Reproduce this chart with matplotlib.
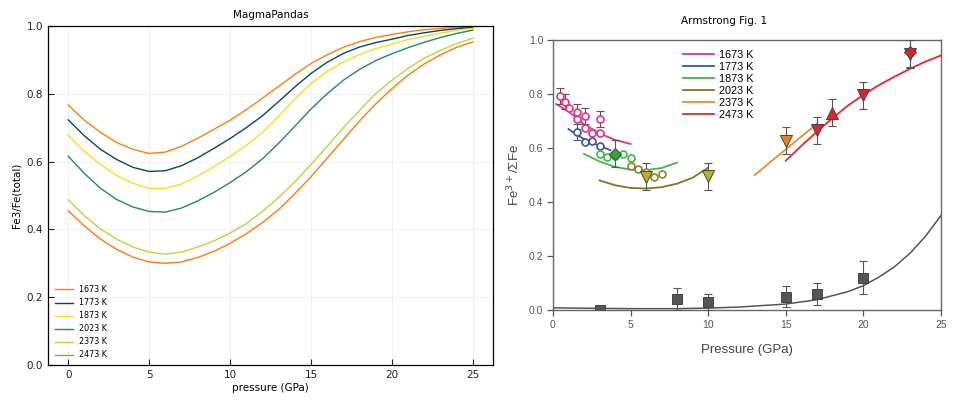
import matplotlib
matplotlib.use("Agg")
import matplotlib.pyplot as plt
import numpy as np

# ---------------- Left panel data (MagmaPandas model curves) ----------------
pressure = list(range(0, 26))
temps_left = ["1673 K", "1773 K", "1873 K", "2023 K", "2373 K", "2473 K"]
colors_left = ["#ff7f0e", "#0b4566", "#ffdc1e", "#1f8a6c", "#bcd63c", "#ff7a10"]

fe3_1673 = [0.767, 0.722, 0.686, 0.656, 0.636, 0.624, 0.628, 0.645, 0.669, 0.695,
            0.722, 0.753, 0.787, 0.822, 0.857, 0.889, 0.915, 0.937, 0.954, 0.966,
            0.975, 0.983, 0.989, 0.993, 0.996, 0.998]
fe3_1773 = [0.723, 0.676, 0.636, 0.606, 0.583, 0.571, 0.573, 0.588, 0.611, 0.639,
            0.668, 0.700, 0.735, 0.777, 0.820, 0.860, 0.893, 0.919, 0.938, 0.951,
            0.961, 0.972, 0.980, 0.987, 0.992, 0.996]
fe3_1873 = [0.678, 0.630, 0.591, 0.559, 0.536, 0.521, 0.521, 0.534, 0.557, 0.585,
            0.615, 0.648, 0.686, 0.734, 0.784, 0.830, 0.866, 0.894, 0.916, 0.933,
            0.947, 0.960, 0.970, 0.979, 0.987, 0.993]
fe3_2023 = [0.616, 0.565, 0.521, 0.488, 0.466, 0.453, 0.451, 0.463, 0.484, 0.509,
            0.538, 0.570, 0.608, 0.654, 0.704, 0.755, 0.800, 0.840, 0.872, 0.898,
            0.918, 0.936, 0.952, 0.966, 0.978, 0.988]
fe3_2373 = [0.487, 0.440, 0.401, 0.371, 0.348, 0.333, 0.327, 0.333, 0.348, 0.366,
            0.389, 0.417, 0.453, 0.494, 0.540, 0.591, 0.645, 0.700, 0.751, 0.800,
            0.840, 0.875, 0.905, 0.928, 0.948, 0.964]
fe3_2473 = [0.455, 0.410, 0.371, 0.341, 0.318, 0.304, 0.300, 0.304, 0.317, 0.335,
            0.359, 0.387, 0.420, 0.458, 0.505, 0.555, 0.610, 0.665, 0.720, 0.770,
            0.815, 0.855, 0.888, 0.915, 0.937, 0.953]
series_left = [fe3_1673, fe3_1773, fe3_1873, fe3_2023, fe3_2373, fe3_2473]

# ---------------- Right panel data (Armstrong et al. Fig. 1) ----------------
temps_right = ["1673 K", "1773 K", "1873 K", "2023 K", "2373 K", "2473 K"]
colors_right = ["#e8308c", "#3a55aa", "#3dba48", "#7c7a22", "#f28a26", "#e8262c"]

fit_1673_p = [0.2, 1.0, 2.0, 3.0, 4.0, 5.0]
fit_1673_v = [0.763, 0.735, 0.688, 0.654, 0.630, 0.615]
fit_1773_p = [1.0, 1.5, 2.0, 2.5, 3.0, 3.7]
fit_1773_v = [0.670, 0.650, 0.633, 0.620, 0.608, 0.592]
fit_1873_p = [2.0, 3.0, 4.0, 5.0, 6.0, 7.0, 8.0]
fit_1873_v = [0.578, 0.550, 0.530, 0.520, 0.518, 0.526, 0.546]
fit_2023_p = [3.0, 4.0, 5.0, 6.0, 7.0, 8.0, 9.0, 10.0]
fit_2023_v = [0.480, 0.462, 0.452, 0.450, 0.455, 0.468, 0.490, 0.527]
fit_2373_p = [13.0, 17.0]
fit_2373_v = [0.500, 0.690]
fit_2473_p = [15.0, 16.0, 17.0, 18.0, 19.0, 20.0, 21.0, 22.0, 23.0, 24.0, 25.0]
fit_2473_v = [0.553, 0.608, 0.660, 0.710, 0.757, 0.797, 0.833, 0.864, 0.893, 0.920, 0.943]
fits_p = [fit_1673_p, fit_1773_p, fit_1873_p, fit_2023_p, fit_2373_p, fit_2473_p]
fits_v = [fit_1673_v, fit_1773_v, fit_1873_v, fit_2023_v, fit_2373_v, fit_2473_v]

fit_gray_p = [0, 3, 5, 8, 10, 12, 15, 17, 19, 20, 21, 22, 23, 24, 25]
fit_gray_v = [0.008, 0.006, 0.005, 0.005, 0.007, 0.011, 0.022, 0.038, 0.068, 0.090,
              0.122, 0.160, 0.210, 0.273, 0.350]

# open circles
pink_p = [0.43, 0.8, 1.03, 1.55, 1.55, 2.04, 2.04, 2.5, 3.0, 3.0]
pink_v = [0.794, 0.772, 0.749, 0.732, 0.707, 0.720, 0.673, 0.654, 0.707, 0.654]
blue_p = [1.55, 2.04, 2.5, 3.0]
blue_v = [0.660, 0.623, 0.627, 0.607]
green_p = [3.0, 3.5, 4.0, 4.5, 5.0]
green_v = [0.578, 0.568, 0.570, 0.578, 0.562]
olive_p = [5.0, 5.5, 6.0, 6.5, 7.0]
olive_v = [0.535, 0.521, 0.511, 0.491, 0.504]

# error bars on open circles
circ_err_p = [0.43, 0.8, 1.55, 2.04, 3.0, 1.55]
circ_err_v = [0.794, 0.772, 0.732, 0.720, 0.707, 0.660]
circ_err_e = [0.030, 0.028, 0.030, 0.030, 0.030, 0.030]

# filled symbols
diam_green_p, diam_green_v, diam_green_e = [4.0], [0.578], [0.05]
tri_olive_p, tri_olive_v, tri_olive_e = [6.0, 10.0], [0.494, 0.496], [0.05, 0.05]
tri_orange_p, tri_orange_v, tri_orange_e = [15.0], [0.627], [0.05]
tri_red_p, tri_red_v, tri_red_e = [17.0, 20.0, 23.0], [0.666, 0.796, 0.950], [0.05, 0.05, 0.05]
up_red_p, up_red_v, up_red_e = [18.0], [0.731], [0.05]
diam_red_p, diam_red_v, diam_red_e = [23.0], [0.957], [0.06]
sq_p = [3.0, 8.0, 10.0, 15.0, 17.0, 20.0]
sq_v = [0.0, 0.040, 0.029, 0.050, 0.060, 0.120]
sq_e = [0.010, 0.040, 0.030, 0.040, 0.040, 0.060]

# ---------------- Figure ----------------
fig = plt.figure(figsize=(9.56, 4.05), dpi=100)

# Left panel
ax = fig.add_axes([48/956, 1-365/405, (493-48)/956, (365-26)/405])
for vals, lab, col in zip(series_left, temps_left, colors_left):
    ax.plot(pressure, vals, color=col, lw=1.0, label=lab)
ax.set_ylim(0, 1)
ax.set_xticks([0, 5, 10, 15, 20, 25])
ax.set_yticks([0.0, 0.2, 0.4, 0.6, 0.8, 1.0])
ax.grid(True, color="#efefef", lw=0.6)
ax.set_axisbelow(True)
ax.tick_params(direction="in", length=4, width=0.8, labelsize=7.5, colors="#222222")
for s in ax.spines.values():
    s.set_linewidth(0.9)
    s.set_color("black")
ax.set_xlabel("pressure (GPa)", fontsize=7.5, labelpad=2)
ax.set_ylabel("Fe3/Fe(total)", fontsize=7.5, labelpad=4)
ax.set_title("MagmaPandas", fontsize=7.5, pad=6)
leg = ax.legend(loc="lower left", fontsize=5.8, frameon=False, handlelength=2.2,
                labelspacing=0.5, borderaxespad=0.5, bbox_to_anchor=(0.0, -0.005))

# Right panel
rf = "Liberation Sans"
ax2 = fig.add_axes([553/956, 1-310/405, (941-553)/956, (310-40)/405])
for p, v, lab, col in zip(fits_p, fits_v, temps_right, colors_right):
    ax2.plot(p, v, color=col, lw=1.3, label=lab)
ax2.plot(fit_gray_p, fit_gray_v, color="#555555", lw=1.1)

eb = dict(fmt="none", ecolor="#555555", elinewidth=0.8, capsize=3.2, capthick=0.8, zorder=3)
ax2.errorbar(circ_err_p, circ_err_v, yerr=circ_err_e, **eb)
ax2.errorbar(diam_green_p, diam_green_v, yerr=diam_green_e, **eb)
ax2.errorbar(tri_olive_p, tri_olive_v, yerr=tri_olive_e, **eb)
ax2.errorbar(tri_orange_p, tri_orange_v, yerr=tri_orange_e, **eb)
ax2.errorbar(tri_red_p, tri_red_v, yerr=tri_red_e, **eb)
ax2.errorbar(up_red_p, up_red_v, yerr=up_red_e, **eb)
ax2.errorbar(diam_red_p, diam_red_v, yerr=diam_red_e, **eb)
ax2.errorbar(sq_p, sq_v, yerr=sq_e, **eb)

oc = dict(ls="none", marker="o", ms=5, mfc="white", mew=1.2, zorder=4)
ax2.plot(pink_p, pink_v, mec=colors_right[0], **oc)
ax2.plot(blue_p, blue_v, mec=colors_right[1], **oc)
ax2.plot(green_p, green_v, mec=colors_right[2], **oc)
ax2.plot(olive_p, olive_v, mec="#8a8430", **oc)

fm = dict(ls="none", mec="#444444", mew=0.7, zorder=5)
ax2.plot(diam_green_p, diam_green_v, marker="D", ms=6.5, mfc="#3c9e42", **fm)
ax2.plot(tri_olive_p, tri_olive_v, marker="v", ms=8, mfc="#b8b424", **fm)
ax2.plot(tri_orange_p, tri_orange_v, marker="v", ms=8, mfc="#f07d1c", **fm)
ax2.plot(tri_red_p, tri_red_v, marker="v", ms=8, mfc="#e0222a", **fm)
ax2.plot(up_red_p, up_red_v, marker="^", ms=8, mfc="#e0222a", **fm)
ax2.plot(diam_red_p, diam_red_v, marker="D", ms=6, mfc="#e0222a", **fm)
ax2.plot(sq_p, sq_v, marker="s", ms=7, mfc="#555555", **fm)

ax2.set_xlim(0, 25)
ax2.set_ylim(0, 1)
ax2.set_xticks([0, 5, 10, 15, 20, 25])
ax2.set_yticks([0.0, 0.2, 0.4, 0.6, 0.8, 1.0])
ax2.set_yticklabels(["0.0", "0.2", "0.4", "0.6", "0.8", "1.0"])
ax2.tick_params(direction="out", length=4, width=0.9, colors="#555555", labelsize=7.5, pad=3)
for lbl in ax2.get_xticklabels() + ax2.get_yticklabels():
    lbl.set_fontfamily(rf)
for s in ax2.spines.values():
    s.set_linewidth(1.0)
    s.set_color("#666666")
ax2.set_xlabel("Pressure (GPa)", fontsize=9.5, color="#444444", family=rf, labelpad=10)
ax2.set_ylabel("Fe$^{3+}$/ΣFe", fontsize=9.5, color="#444444", family=rf, labelpad=5)
ax2.legend(loc="upper left", bbox_to_anchor=(0.31, 1.0), frameon=False,
           handlelength=2.9, handletextpad=0.4, labelspacing=0.19,
           prop={"family": rf, "size": 7.8})
fig.text(724/956, 1-21/405, "Armstrong Fig. 1", ha="center", va="center", fontsize=7.5)

fig.savefig("out.png", dpi=100)
